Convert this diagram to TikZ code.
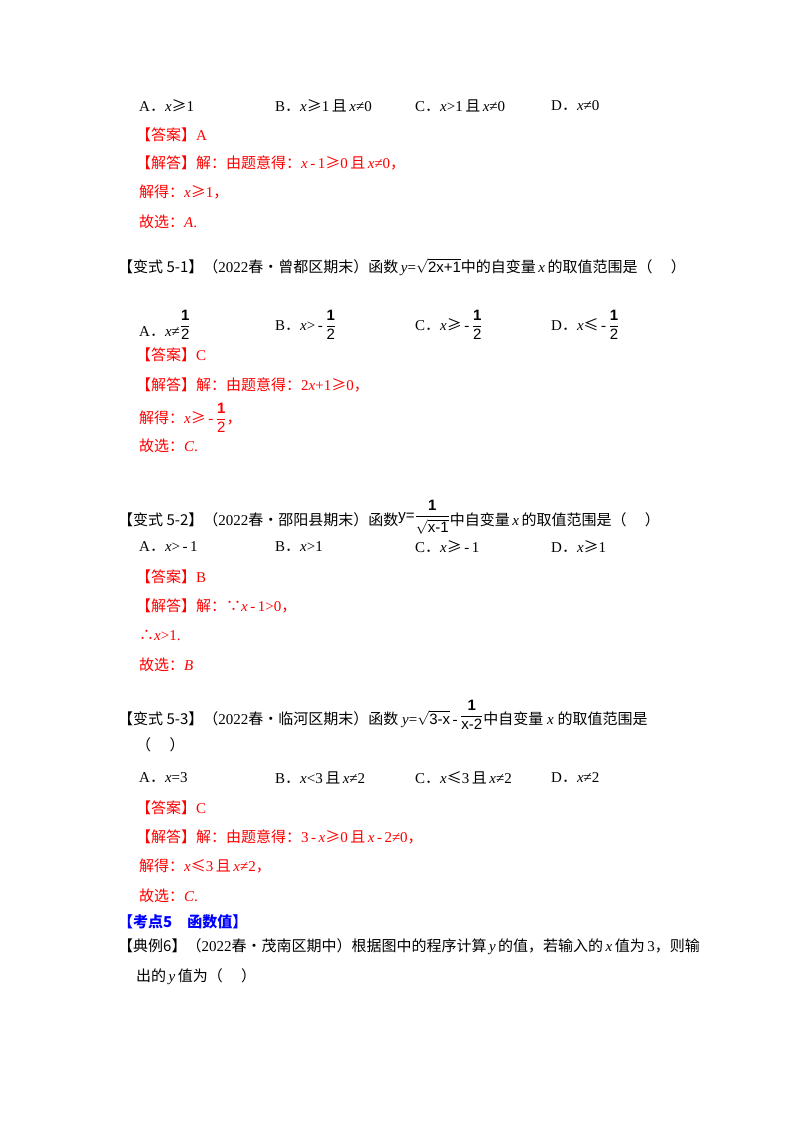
\documentclass[tikz,border=0pt]{standalone}
\usepackage{amsmath}
\usepackage{fontspec}
\setmainfont{Liberation Serif}
\setsansfont{Liberation Sans}
\newfontfamily\cjk{Noto Sans CJK SC}
\newcommand{\zh}[1]{{\cjk #1}}
\newcommand{\vx}{\textit{x}}
\newcommand{\vy}{\textit{y}}
\newcommand{\mge}{\zh{≥}}
\newcommand{\mle}{\zh{≤}}
\newcommand{\dt}{\zh{．}}
\newcommand{\fr}[2]{$\genfrac{}{}{0.7pt}{0}{\textsf{\bfseries #1}}{\textsf{#2}}$}
\newcommand{\rt}[1]{$\sqrt{\textsf{#1}}$}
\definecolor{ansred}{RGB}{255,0,0}
\definecolor{kdblue}{RGB}{0,0,255}
\begin{document}
\begin{tikzpicture}[x=1pt,y=-1pt,
  every node/.style={anchor=west,inner sep=0pt,font=\fontsize{15}{18}\selectfont},
  ans/.style={text=ansred}]
\useasboundingbox (0,0) rectangle (800,1132);
\fill[white] (0,0) rectangle (800,1132);
% block 1
\node (a1) at (139,106) {A\dt\vx\mge1};
\node (b1) at (275,106) {B\dt\vx\mge1\,\zh{且}\,\vx≠0};
\node (c1) at (415,106) {C\dt\vx>1\,\zh{且}\,\vx≠0};
\node (d1) at (551,106) {D\dt\vx≠0};
\node[ans] (e1) at (136,135) {\zh{【答案】}A};
\node[ans] (f1) at (136,163) {\zh{【解答】解：由题意得：}\vx\,-\,1\mge0\,\zh{且}\,\vx≠0\zh{，}};
\node[ans] (g1) at (139,192) {\zh{解得：}\vx\mge1\zh{，}};
\node[ans] (h1) at (139,222) {\zh{故选：}\textit{A}.};
% 5-1
\node (q2) at (118,267) {\zh{【变式 5-1】（}2022\zh{春•曾都区期末）函数}\,\vy=\rt{2x+1}\zh{中的自变量}\,\vx\,\zh{的取值范围是（\quad\ ）}};
\node (a2) at (139,325) {A\dt\vx≠\raisebox{6pt}{\fr{1}{2}}};
\node (b2) at (275,325) {B\dt\vx>\,-\,\fr{1}{2}};
\node (c2) at (415,325) {C\dt\vx\mge\,-\,\fr{1}{2}};
\node (d2) at (551,325) {D\dt\vx\mle\,-\,\fr{1}{2}};
\node[ans] (e2) at (136,355) {\zh{【答案】}C};
\node[ans] (f2) at (136,385) {\zh{【解答】解：由题意得：}2\vx+1\mge0\zh{，}};
\node[ans] (g2) at (139,418) {\zh{解得：}\vx\mge\,-\,\fr{1}{2}\zh{，}};
\node[ans] (h2) at (139,446) {\zh{故选：}\textit{C}.};
% 5-2
\node (q3) at (118,517) {\zh{【变式 5-2】（}2022\zh{春•邵阳县期末）函数}\raisebox{5pt}{\textsf{y=}\fr{1}{\rt{x-1}}}\zh{中自变量}\,\vx\,\zh{的取值范围是（\quad\ ）}};
\node (a3) at (139,547) {A\dt\vx>\,-\,1};
\node (b3) at (275,547) {B\dt\vx>1};
\node (c3) at (415,547) {C\dt\vx\mge\,-\,1};
\node (d3) at (551,547) {D\dt\vx\mge1};
\node[ans] (e3) at (136,577) {\zh{【答案】}B};
\node[ans] (f3) at (136,606) {\zh{【解答】解：∵}\vx\,-\,1>0\zh{，}};
\node[ans] (g3) at (139,635) {\zh{∴}\vx>1.};
\node[ans] (h3) at (139,665) {\zh{故选：}\textit{B}};
% 5-3
\node (q4) at (118,715) {\zh{【变式 5-3】（}2022\zh{春•临河区期末）函数}\ \vy=\rt{3-x}\,-\,\raisebox{4pt}{\fr{1}{x-2}}\zh{中自变量}\ \vx\ \zh{的取值范围是}};
\node (q4b) at (136,745) {\zh{（\quad\ ）}};
\node (a4) at (139,778) {A\dt\vx=3};
\node (b4) at (275,778) {B\dt\vx<3\,\zh{且}\,\vx≠2};
\node (c4) at (415,778) {C\dt\vx\mle3\,\zh{且}\,\vx≠2};
\node (d4) at (551,778) {D\dt\vx≠2};
\node[ans] (e4) at (136,808) {\zh{【答案】}C};
\node[ans] (f4) at (136,837) {\zh{【解答】解：由题意得：}3\,-\,\vx\mge0\,\zh{且}\,\vx\,-\,2≠0\zh{，}};
\node[ans] (g4) at (139,866) {\zh{解得：}\vx\mle3\,\zh{且}\,\vx≠2\zh{，}};
\node[ans] (h4) at (139,896) {\zh{故选：}\textit{C}.};
% kaodian
\node[text=kdblue,font=\fontsize{15}{18}\selectfont\bfseries] (k5) at (118,922) {\zh{【考点5\quad 函数值】}};
\node (q5) at (118,947) {\zh{【典例6】（}2022\zh{春•茂南区期中）根据图中的程序计算}\,\vy\,\zh{的值，若输入的}\,\vx\,\zh{值为}\,3\zh{，则输}};
\node (q5b) at (136,977) {\zh{出的}\,\vy\,\zh{值为（\quad\ ）}};
\end{tikzpicture}
\end{document}
